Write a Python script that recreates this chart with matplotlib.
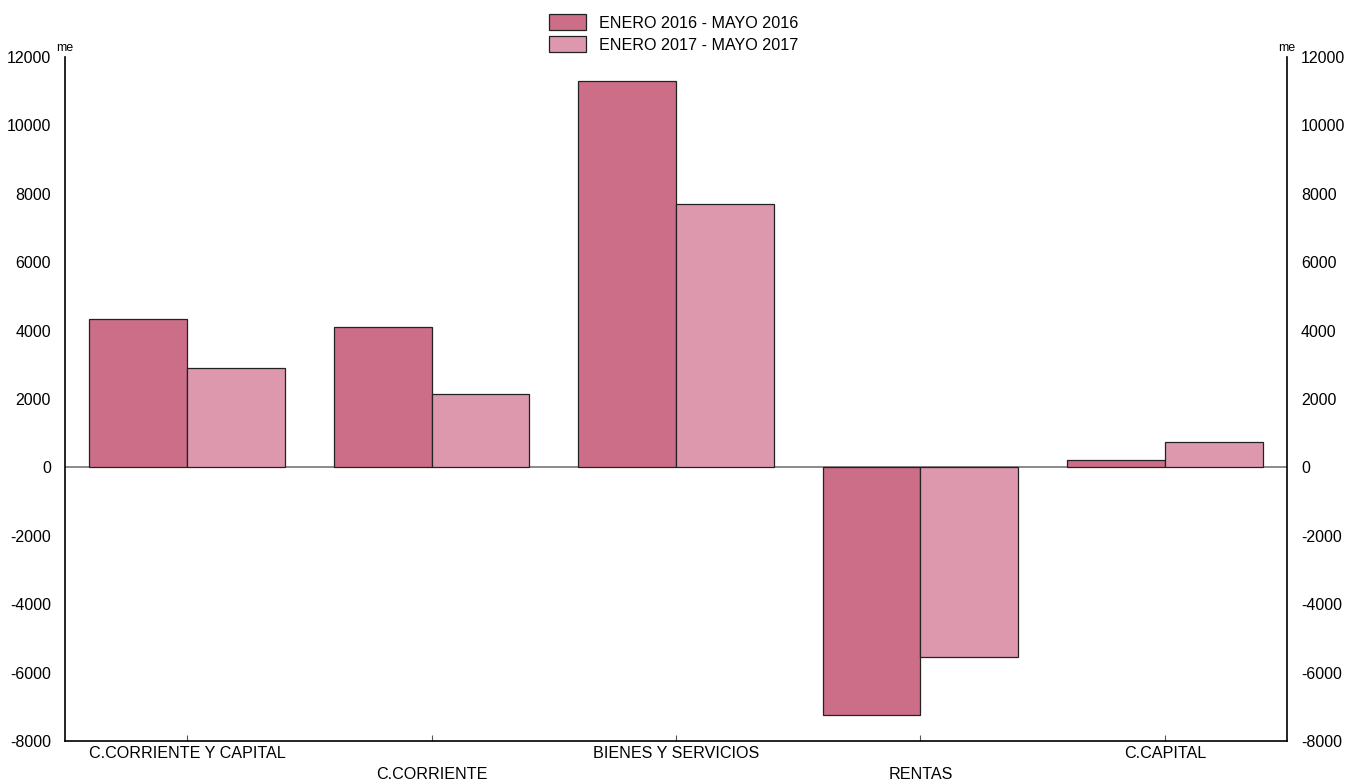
import matplotlib.pyplot as plt
import numpy as np

plt.rcParams['font.family'] = ['Liberation Sans', 'DejaVu Sans']

categories = ["C.CORRIENTE Y CAPITAL", "C.CORRIENTE", "BIENES Y SERVICIOS", "RENTAS", "C.CAPITAL"]
series_names = ["ENERO 2016 - MAYO 2016", "ENERO 2017 - MAYO 2017"]
vals_2016 = [4350, 4100, 11300, -7230, 230]
vals_2017 = [2900, 2150, 7700, -5550, 740]
yticks = list(range(-8000, 12001, 2000))

fig = plt.figure(figsize=(13.48, 7.82), dpi=100)
ax = fig.add_axes([65 / 1348, 1 - 741 / 782, 1222 / 1348, 684 / 782])

x = np.arange(len(categories))
w = 0.4
ax.bar(x - w / 2, vals_2016, w, color="#CC6E88", edgecolor="#222222", linewidth=0.9, label=series_names[0], zorder=3)
ax.bar(x + w / 2, vals_2017, w, color="#DD98AE", edgecolor="#222222", linewidth=0.9, label=series_names[1], zorder=3)
ax.axhline(0, color="#777777", linewidth=1.2, zorder=2)

ax.set_xlim(-0.5, len(categories) - 0.5)
ax.set_ylim(-8000, 12000)
ax.set_yticks(yticks)
ax.set_yticklabels([str(t) for t in yticks], fontsize=11.5)
ax.tick_params(axis="y", which="both", direction="in", length=0, left=True, right=True,
               labelleft=True, labelright=True, pad=10)

ax.set_xticks(x)
ax.set_xticklabels([])
ax.tick_params(axis="x", direction="in", length=4, color="#555555")
for i, c in enumerate(categories):
    ax.text(i, -0.007 if i % 2 == 0 else -0.038, c, transform=ax.get_xaxis_transform(),
            ha="center", va="top", fontsize=11.6)

ax.spines["top"].set_visible(False)
for s in ["left", "right", "bottom"]:
    ax.spines[s].set_linewidth(1.2)

ax.text(0, 1.004, "me", transform=ax.transAxes, ha="center", va="bottom", fontsize=9)
ax.text(1, 1.004, "me", transform=ax.transAxes, ha="center", va="bottom", fontsize=9)

fig.legend(loc="upper center", bbox_to_anchor=(0.5, 1.0), ncol=1, frameon=False,
           fontsize=11.6, handlelength=2.3, handleheight=1.1, labelspacing=0.35,
           borderpad=0.4)

plt.savefig("out.png", dpi=100)
